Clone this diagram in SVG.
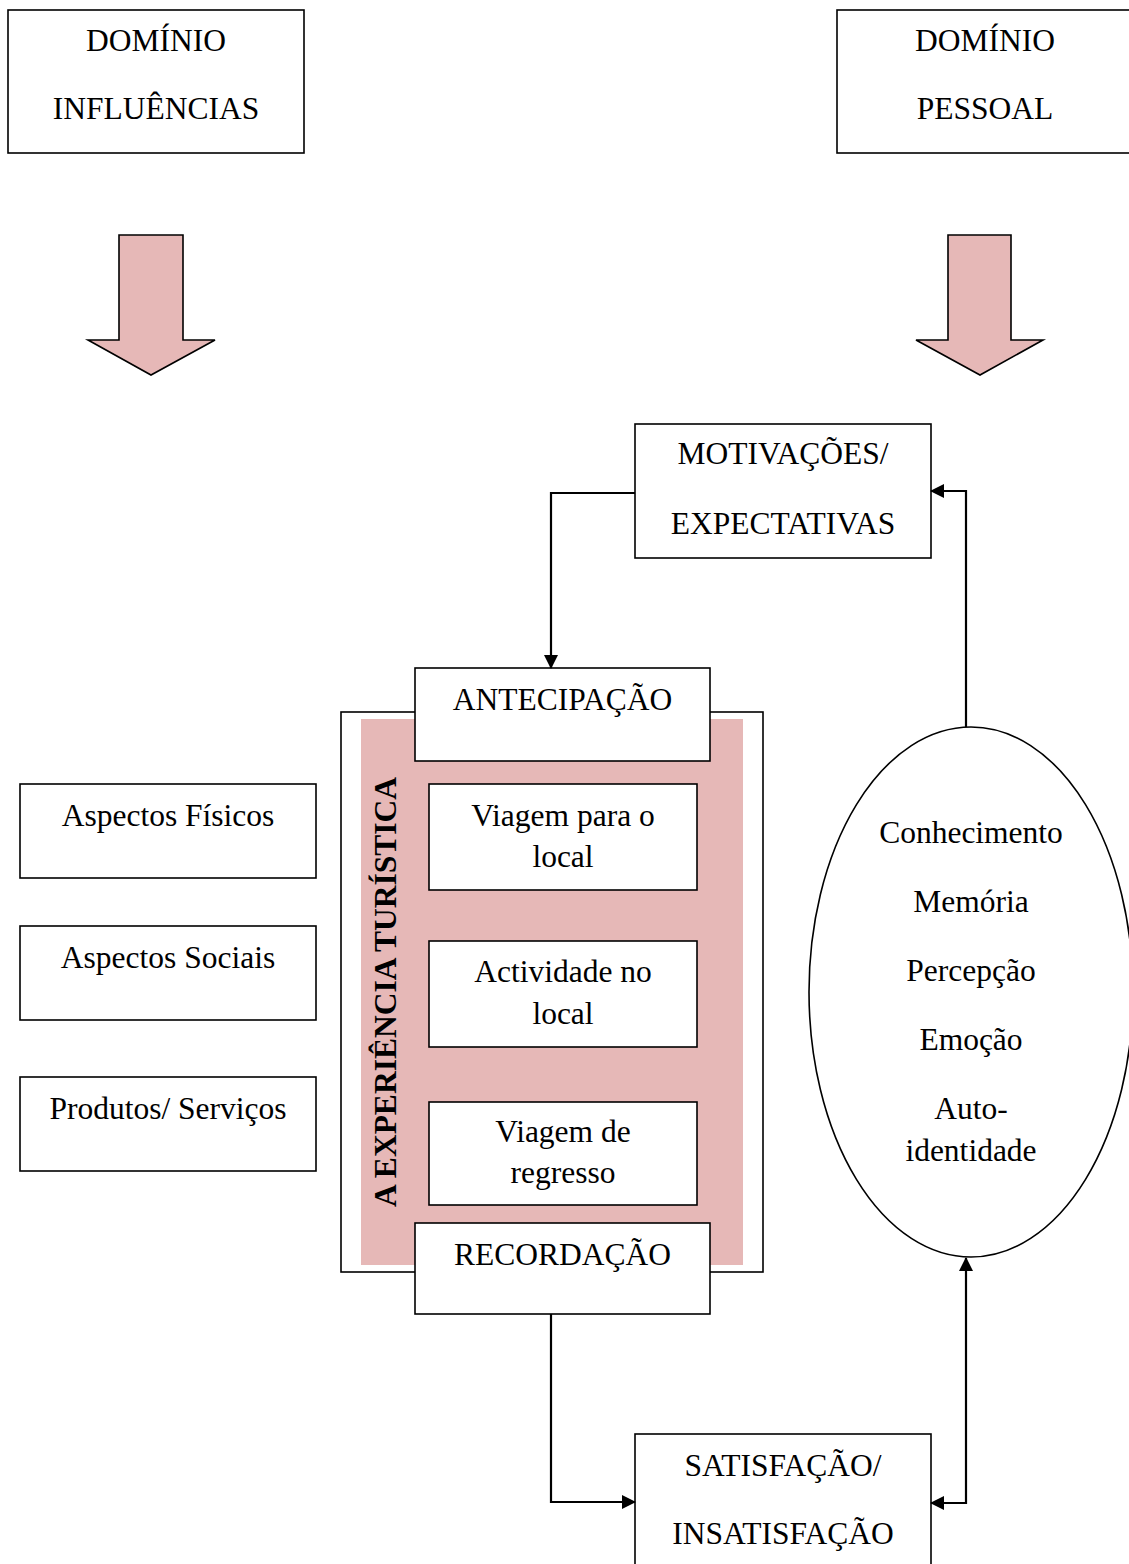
<svg xmlns="http://www.w3.org/2000/svg" width="1129" height="1564" viewBox="0 0 1129 1564">
<style>
.box{fill:#fff;stroke:#000;stroke-width:1.6}
.t{font-family:"Liberation Serif","Times New Roman",serif;font-size:31.5px;fill:#000;text-anchor:middle}
.bold{font-weight:bold}
.blk{fill:#e6b8b7;stroke:#000;stroke-width:1.6;stroke-linejoin:miter}
.con{fill:none;stroke:#000;stroke-width:2.2}
</style>
<defs>
<marker id="ah" markerUnits="userSpaceOnUse" markerWidth="14" markerHeight="14" refX="13" refY="7" orient="auto-start-reverse">
<path d="M0,0 L14,7 L0,14 z" fill="#000"/>
</marker>
</defs>
<rect width="1129" height="1564" fill="#fff"/>

<g id="dominio-influencias">
<rect class="box" x="8" y="10" width="296" height="143"/>
<text class="t" x="156" y="51">DOMÍNIO</text>
<text class="t" x="156" y="119">INFLUÊNCIAS</text>
</g>
<g id="dominio-pessoal">
<rect class="box" x="837" y="10" width="300" height="143"/>
<text class="t" x="985" y="51">DOMÍNIO</text>
<text class="t" x="985" y="119">PESSOAL</text>
</g>

<g id="block-arrow-left">
<path class="blk" d="M119,235 H183 V340 H215 L151,375 L88,340 H119 Z"/>
</g>
<g id="block-arrow-right">
<path class="blk" d="M948,235 H1011 V340 H1043 L980,375 L916,340 H948 Z"/>
</g>

<g id="motivacoes">
<rect class="box" x="635" y="424" width="296" height="134"/>
<text class="t" x="783" y="464">MOTIVAÇÕES/</text>
<text class="t" x="783" y="534">EXPECTATIVAS</text>
</g>

<g id="experiencia">
<rect class="box" x="341" y="712" width="422" height="560"/>
<rect x="361" y="719" width="382" height="546" fill="#e6b8b7"/>
<text class="t bold" transform="translate(396,992) rotate(-90)" x="0" y="0">A EXPERIÊNCIA TURÍSTICA</text>
</g>

<g id="antecipacao">
<rect class="box" x="415" y="668" width="295" height="93"/>
<text class="t" x="562.5" y="710">ANTECIPAÇÃO</text>
</g>

<g id="viagem-para">
<rect class="box" x="429" y="784" width="268" height="106"/>
<text class="t" x="563" y="826">Viagem para o</text>
<text class="t" x="563" y="867">local</text>
</g>
<g id="actividade">
<rect class="box" x="429" y="941" width="268" height="106"/>
<text class="t" x="563" y="982">Actividade no</text>
<text class="t" x="563" y="1024">local</text>
</g>
<g id="viagem-regresso">
<rect class="box" x="429" y="1102" width="268" height="103"/>
<text class="t" x="563" y="1142">Viagem de</text>
<text class="t" x="563" y="1183">regresso</text>
</g>

<g id="recordacao">
<rect class="box" x="415" y="1223" width="295" height="91"/>
<text class="t" x="562.5" y="1265">RECORDAÇÃO</text>
</g>

<g id="satisfacao">
<rect class="box" x="635" y="1434" width="296" height="140"/>
<text class="t" x="783" y="1476">SATISFAÇÃO/</text>
<text class="t" x="783" y="1544">INSATISFAÇÃO</text>
</g>

<g id="aspectos-fisicos">
<rect class="box" x="20" y="784" width="296" height="94"/>
<text class="t" x="168" y="826">Aspectos Físicos</text>
</g>
<g id="aspectos-sociais">
<rect class="box" x="20" y="926" width="296" height="94"/>
<text class="t" x="168" y="968">Aspectos Sociais</text>
</g>
<g id="produtos">
<rect class="box" x="20" y="1077" width="296" height="94"/>
<text class="t" x="168" y="1119">Produtos/ Serviços</text>
</g>

<g id="pessoal-ellipse">
<ellipse class="box" cx="971" cy="992" rx="162" ry="265"/>
<text class="t" x="971" y="843">Conhecimento</text>
<text class="t" x="971" y="912">Memória</text>
<text class="t" x="971" y="981">Percepção</text>
<text class="t" x="971" y="1050">Emoção</text>
<text class="t" x="971" y="1119">Auto-</text>
<text class="t" x="971" y="1161">identidade</text>
</g>

<g id="connectors">
<path class="con" d="M635,493 H551 V668" marker-end="url(#ah)"/>
<path class="con" d="M966,727 V491 H931" marker-end="url(#ah)"/>
<path class="con" d="M551,1314 V1502 H635" marker-end="url(#ah)"/>
<path class="con" d="M931,1503 H966 V1258" marker-start="url(#ah)" marker-end="url(#ah)"/>
</g>
</svg>
